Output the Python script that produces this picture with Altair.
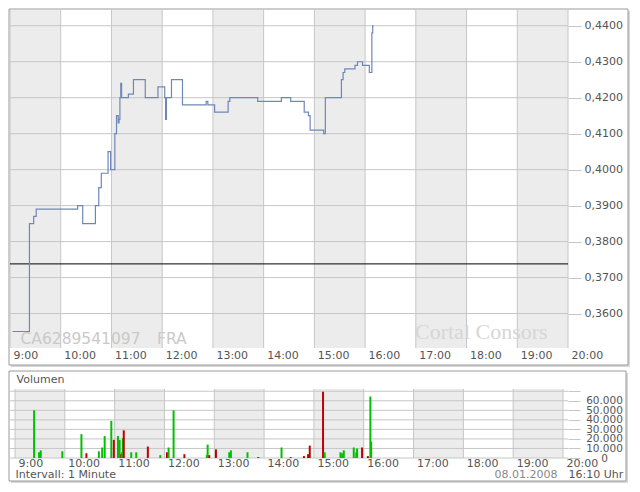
import altair as alt
import pandas as pd

# ---------------- data ----------------
hours = [9, 10, 11, 12, 13, 14, 15, 16, 17, 18, 19, 20]
shaded_hours = [9, 11, 13, 15, 17, 19]
price_ticks = [0.36, 0.37, 0.38, 0.39, 0.40, 0.41, 0.42, 0.43, 0.44]
volume_ticks = [0, 10000, 20000, 30000, 40000, 50000, 60000, 70000]

price_times = ["9:03", "9:23", "9:28", "9:31", "10:20", "10:26", "10:41", "10:45", "10:48", "10:56",
               "10:59", "11:04", "11:06", "11:08", "11:09", "11:10", "11:11", "11:12", "11:20", "11:26",
               "11:40", "11:55", "12:03", "12:04", "12:05", "12:11", "12:24", "12:52", "12:54", "13:02",
               "13:18", "13:20", "13:53", "14:21", "14:32", "14:48", "14:53", "14:55", "15:11", "15:13",
               "15:32", "15:34", "15:36", "15:48", "15:51", "15:57", "16:05", "16:08", "16:09", "16:10"]
prices = [0.355, 0.385, 0.387, 0.389, 0.390, 0.385, 0.390, 0.395, 0.399, 0.405,
          0.400, 0.410, 0.415, 0.413, 0.414, 0.420, 0.424, 0.420, 0.421, 0.425,
          0.420, 0.423, 0.420, 0.414, 0.420, 0.425, 0.418, 0.419, 0.418, 0.416,
          0.419, 0.420, 0.419, 0.420, 0.419, 0.416, 0.415, 0.411, 0.410, 0.420,
          0.425, 0.427, 0.428, 0.429, 0.430, 0.429, 0.427, 0.438, 0.440, 0.440]
prev_close = [0.3738]

vol_times = ["9:23", "9:29", "9:31", "9:57", "10:20", "10:26", "10:41", "10:45", "10:48", "10:56",
             "10:59", "11:04", "11:06", "11:08", "11:09", "11:10", "11:11", "11:20", "11:26", "11:40",
             "11:55", "12:03", "12:05", "12:11", "12:24", "12:51", "12:52", "12:54", "13:02", "13:18",
             "13:20", "13:40", "13:53", "14:21", "14:32", "14:48", "14:53", "14:55", "15:11", "15:13",
             "15:32", "15:34", "15:36", "15:48", "15:51", "15:52", "15:58", "16:05", "16:08", "16:09"]
volumes = [50000, 6000, 8000, 7000, 25000, 5000, 7000, 11000, 23000, 39000,
           19000, 23000, 19000, 4000, 6000, 21000, 29000, 6000, 6000, 12000,
           3000, 6000, 11000, 50000, 4000, 3000, 14000, 3000, 9000, 6000,
           8000, 6000, 1000, 11000, 1000, 2000, 4000, 13000, 69500, 6000,
           6000, 5000, 8000, 11000, 6000, 10000, 11000, 2000, 64500, 17000]
directions = ["up", "up", "up", "up", "up", "down", "up", "up", "up", "up",
              "down", "up", "up", "down", "up", "up", "down", "up", "up", "down",
              "up", "down", "up", "up", "down", "up", "up", "down", "down", "up",
              "up", "up", "down", "up", "down", "down", "down", "down", "down", "up",
              "up", "up", "up", "up", "up", "up", "down", "down", "up", "up"]

isin_text = ["CA6289541097", "FRA"]
brand_text = ["Cortal Consors"]
volume_title = ["Volumen"]
footer_texts = ["Intervall: 1 Minute", "08.01.2008", "16:10 Uhr"]


def to_hours(t):
    h, m = t.split(":")
    return int(h) + int(m) / 60.0


price_df = pd.DataFrame({"t": [to_hours(t) for t in price_times], "price": prices})
vol_df = pd.DataFrame({"t": [to_hours(t) for t in vol_times], "vol": volumes, "dir": directions})
band_df = pd.DataFrame({"start": shaded_hours, "end": [h + 1 for h in shaded_hours]})
hour_df = pd.DataFrame({"h": hours})
pgrid_df = pd.DataFrame({"p": price_ticks})
vgrid_df = pd.DataFrame({"v": volume_ticks})
close_df = pd.DataFrame({"c": prev_close})
one = pd.DataFrame({"k": [0]})

# ---------------- style ----------------
W = 558
H1 = 338
H2 = 69
GRID = "#c6c6c6"
BAND = "#ececec"
TXT = "#555555"
FONT = "DejaVu Sans"

x_scale = alt.Scale(domain=[9, 20], nice=False, zero=False)
p_scale = alt.Scale(domain=[0.35042, 0.44438], nice=False, zero=False)
v_scale = alt.Scale(domain=[0, 72350], nice=False, zero=False)


def x_axis(pad):
    return alt.Axis(values=hours, labelExpr="datum.value + ':00'", labelAlign="left",
                    labelBaseline="middle", labelOffset=3, labelPadding=pad, ticks=False,
                    tickSize=0, domain=False, grid=False, labelFlush=False, labelOverlap=False,
                    labelFont=FONT, labelFontSize=11, labelColor=TXT, title=None, zindex=1)


p_axis = alt.Axis(orient="right", values=price_ticks,
                  labelExpr="replace(format(datum.value, '.4f'), '.', ',')",
                  tickSize=13, tickColor=GRID, tickWidth=1, labelPadding=3, labelAlign="left",
                  labelBaseline="middle", domain=False, grid=False, labelOverlap=False,
                  labelFont=FONT, labelFontSize=11, labelColor=TXT, title=None, zindex=1)

v_axis = alt.Axis(orient="right", values=volume_ticks,
                  labelExpr="datum.value >= 70000 ? '' : (datum.value == 0 ? '0' : replace(format(datum.value, ',d'), ',', '.'))",
                  tickSize=12, tickColor=GRID, tickWidth=1, labelPadding=24, labelAlign="center",
                  labelBaseline="middle", domain=False, grid=False, labelOverlap=False,
                  labelFont=FONT, labelFontSize=10.5, labelColor=TXT, title=None, zindex=1)

xa_top = x_axis(7)
xa_bot = x_axis(5.5)


def frame(x0, x1, y0, y1):
    shadow = alt.Chart(one).mark_rect(color="#d8d8d8").encode(
        x=alt.value(x0 + 2), x2=alt.value(x1 + 2), y=alt.value(y0 + 2), y2=alt.value(y1 + 2))
    box = alt.Chart(one).mark_rect(fill="white", stroke="#9a9a9a", strokeWidth=1).encode(
        x=alt.value(x0), x2=alt.value(x1), y=alt.value(y0), y2=alt.value(y1))
    return [shadow, box]


# ---------------- top panel ----------------
bands_top = alt.Chart(band_df).mark_rect(color=BAND).encode(
    x=alt.X("start:Q", scale=x_scale, axis=xa_top), x2="end:Q",
    y=alt.value(0), y2=alt.value(H1))
hgrid_top = alt.Chart(hour_df).mark_rule(color=GRID, strokeWidth=1).encode(
    x=alt.X("h:Q", scale=x_scale, axis=xa_top))
pgrid = alt.Chart(pgrid_df).mark_rule(color=GRID, strokeWidth=1).encode(
    y=alt.Y("p:Q", scale=p_scale, axis=p_axis))

isin1 = alt.Chart(pd.DataFrame({"s": [isin_text[0]]})).mark_text(
    align="left", baseline="alphabetic", font=FONT, fontSize=15.5, color="#c9c9c9").encode(
    text="s:N", x=alt.value(10.5), y=alt.value(334))
isin2 = alt.Chart(pd.DataFrame({"s": [isin_text[1]]})).mark_text(
    align="left", baseline="alphabetic", font=FONT, fontSize=15.5, color="#c9c9c9").encode(
    text="s:N", x=alt.value(147), y=alt.value(334))
brand = alt.Chart(pd.DataFrame({"s": brand_text})).mark_text(
    align="left", baseline="alphabetic", font="Liberation Serif", fontSize=22, color="#d6d6d6").encode(
    text="s:N", x=alt.value(405), y=alt.value(329))

close_rule = alt.Chart(close_df).mark_rule(color="black", strokeWidth=1).encode(
    y=alt.Y("c:Q", scale=p_scale, axis=p_axis))
line = alt.Chart(price_df).mark_line(interpolate="step-after", color="#6f87b6", strokeWidth=1.2).encode(
    x=alt.X("t:Q", scale=x_scale, axis=xa_top),
    y=alt.Y("price:Q", scale=p_scale, axis=p_axis))

top = alt.layer(*frame(-1, 618, -1, 355), bands_top, hgrid_top, pgrid, isin1, isin2, brand,
                close_rule, line).properties(width=W, height=H1)

# ---------------- volume panel ----------------
bands_bot = alt.Chart(band_df).mark_rect(color=BAND).encode(
    x=alt.X("start:Q", scale=x_scale, axis=xa_bot), x2="end:Q",
    y=alt.value(0), y2=alt.value(H2))
hgrid_bot = alt.Chart(hour_df).mark_rule(color=GRID, strokeWidth=1).encode(
    x=alt.X("h:Q", scale=x_scale, axis=xa_bot))
vgrid = alt.Chart(vgrid_df).mark_rule(color=GRID, strokeWidth=1).encode(
    y=alt.Y("v:Q", scale=v_scale, axis=v_axis))
bars = alt.Chart(vol_df).mark_bar(size=2).encode(
    x=alt.X("t:Q", scale=x_scale, axis=xa_bot),
    y=alt.Y("vol:Q", scale=v_scale, axis=v_axis),
    color=alt.Color("dir:N", scale=alt.Scale(domain=["up", "down"], range=["#00c000", "#c00000"]),
                    legend=None))

vtitle = alt.Chart(pd.DataFrame({"s": volume_title})).mark_text(
    align="left", baseline="middle", font=FONT, fontSize=11, color=TXT).encode(
    text="s:N", x=alt.value(6.5), y=alt.value(-9))
foot1 = alt.Chart(pd.DataFrame({"s": [footer_texts[0]]})).mark_text(
    align="left", baseline="middle", font=FONT, fontSize=11, color=TXT).encode(
    text="s:N", x=alt.value(5.5), y=alt.value(86))
foot2 = alt.Chart(pd.DataFrame({"s": [footer_texts[1]]})).mark_text(
    align="left", baseline="middle", font=FONT, fontSize=11, color="#888888").encode(
    text="s:N", x=alt.value(484.5), y=alt.value(86))
foot3 = alt.Chart(pd.DataFrame({"s": [footer_texts[2]]})).mark_text(
    align="left", baseline="middle", font=FONT, fontSize=11, color=TXT).encode(
    text="s:N", x=alt.value(558.5), y=alt.value(86))

bottom = alt.layer(*frame(-1, 616, -18, 92), bands_bot, hgrid_bot, vgrid, bars,
                   vtitle, foot1, foot2, foot3).properties(width=W, height=H2)

chart = alt.vconcat(top, bottom, spacing=3).resolve_scale(
    x="independent", y="independent").properties(padding=0, background="white").configure_view(stroke=None)

chart.save("out.html", embed_options={"renderer": "svg", "actions": False})
